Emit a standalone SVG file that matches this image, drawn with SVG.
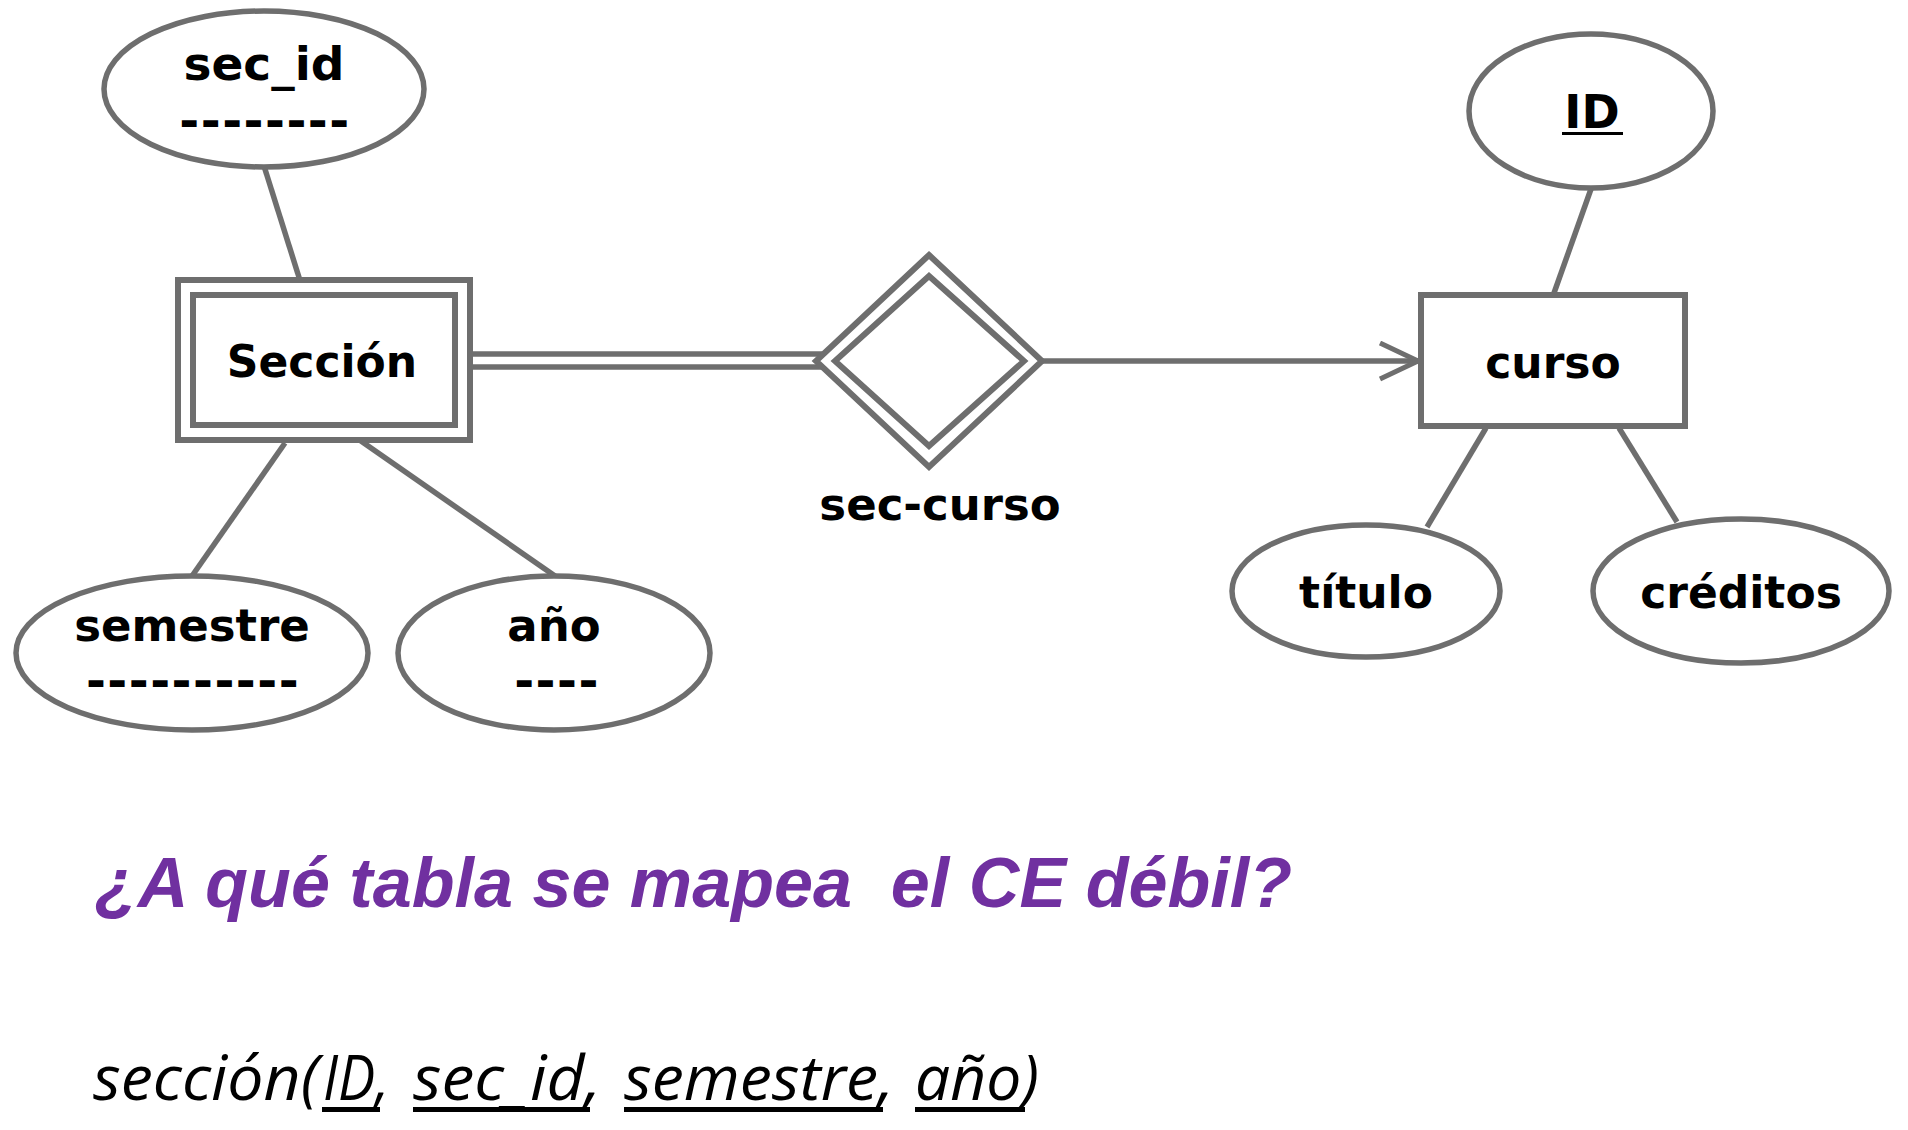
<svg xmlns="http://www.w3.org/2000/svg" width="1908" height="1130" viewBox="0 0 1908 1130">
<style>
  .shape { fill: #ffffff; stroke: #6e6e6e; stroke-width: 6; }
  .attr { fill: #ffffff; stroke: #6e6e6e; stroke-width: 5.5; }
  .conn { fill: none; stroke: #6e6e6e; stroke-width: 5.5; }
  .lbl { font-family: "DejaVu Sans", Verdana, sans-serif; font-weight: bold; font-size: 44px; fill: #000000; text-anchor: middle; }
  .dash { font-family: "DejaVu Sans", Verdana, sans-serif; font-weight: bold; font-size: 48px; letter-spacing: 1.5px; fill: #000000; text-anchor: middle; }
  .title { font-family: "Liberation Sans", Arial, sans-serif; font-weight: bold; font-style: italic; font-size: 70px; fill: #7030A0; }
  .rel { font-family: "Open Sans", "Noto Sans", sans-serif; font-style: italic; font-size: 63px; fill: #000000; }
</style>
<defs>
  <marker id="open-arrow" markerUnits="userSpaceOnUse" markerWidth="46" markerHeight="42" refX="40" refY="20" orient="auto">
    <path d="M2,2 L40,20 L2,38" fill="none" stroke="#6e6e6e" stroke-width="5"/>
  </marker>
</defs>
<rect width="1908" height="1130" fill="#ffffff"/>

<g id="connectors">
  <line class="conn" x1="264" y1="166" x2="303" y2="290"/>
  <line class="conn" x1="285" y1="443" x2="192" y2="576"/>
  <line class="conn" x1="348" y1="432" x2="555" y2="576"/>
  <line class="conn" x1="473" y1="354" x2="822" y2="354"/>
  <line class="conn" x1="473" y1="367" x2="822" y2="367"/>
  <line class="conn" x1="1043" y1="361" x2="1418" y2="361" marker-end="url(#open-arrow)"/>
  <line class="conn" x1="1591" y1="189" x2="1554" y2="293"/>
  <line class="conn" x1="1486" y1="428" x2="1427" y2="527"/>
  <line class="conn" x1="1619" y1="428" x2="1677" y2="522"/>
</g>

<g id="attr-sec_id">
  <ellipse class="attr" cx="264" cy="89" rx="160" ry="78"/>
  <text class="lbl" x="264" y="80" style="font-size:47px">sec_id</text>
  <text class="dash" x="265" y="137">--------</text>
</g>

<g id="entity-seccion">
  <rect class="shape" x="178" y="280" width="292" height="160"/>
  <rect class="shape" x="193" y="295" width="262" height="130"/>
  <text class="lbl" x="322" y="377">Sección</text>
</g>

<g id="attr-semestre">
  <ellipse class="attr" cx="192" cy="653" rx="176" ry="77"/>
  <text class="lbl" x="192" y="641" style="font-size:45px">semestre</text>
  <text class="dash" x="193" y="697">----------</text>
</g>

<g id="attr-anio">
  <ellipse class="attr" cx="554" cy="653" rx="156" ry="77"/>
  <text class="lbl" x="554" y="641" style="font-size:45px">año</text>
  <text class="dash" x="557" y="697">----</text>
</g>

<g id="rel-sec-curso">
  <polygon class="shape" points="929,255 1042,361 929,467 816,361"/>
  <polygon class="shape" points="929,276 1024,361 929,446 835,361"/>
  <text class="lbl" x="940" y="520" style="font-size:45px">sec-curso</text>
</g>

<g id="entity-curso">
  <rect class="shape" x="1421" y="295" width="264" height="131"/>
  <text class="lbl" x="1553" y="378">curso</text>
</g>

<g id="attr-ID">
  <ellipse class="attr" cx="1591" cy="111" rx="122" ry="77"/>
  <text class="lbl" x="1592" y="128" style="font-size:46px">ID</text>
  <rect x="1562" y="132" width="61" height="3" fill="#000000"/>
</g>

<g id="attr-titulo">
  <ellipse class="attr" cx="1366" cy="591" rx="134" ry="66"/>
  <text class="lbl" x="1366" y="608">título</text>
</g>

<g id="attr-creditos">
  <ellipse class="attr" cx="1741" cy="591" rx="148" ry="72"/>
  <text class="lbl" x="1741" y="608">créditos</text>
</g>

<g id="question">
  <text class="title" x="95" y="907" textLength="1197" lengthAdjust="spacingAndGlyphs" xml:space="preserve">¿A qué tabla se mapea  el CE débil?</text>
</g>

<g id="relation">
  <text class="rel" x="93" y="1100" textLength="226" lengthAdjust="spacingAndGlyphs">sección(</text>
  <text class="rel" x="323" y="1100" textLength="66" lengthAdjust="spacingAndGlyphs">ID,</text>
  <text class="rel" x="413" y="1100" textLength="188" lengthAdjust="spacingAndGlyphs">sec_id,</text>
  <text class="rel" x="624" y="1100" textLength="270" lengthAdjust="spacingAndGlyphs">semestre,</text>
  <text class="rel" x="915" y="1100" textLength="124" lengthAdjust="spacingAndGlyphs">año)</text>
  <rect x="322" y="1107" width="58" height="5" fill="#000000"/>
  <rect x="413" y="1107" width="177" height="5" fill="#000000"/>
  <rect x="624" y="1107" width="259" height="5" fill="#000000"/>
  <rect x="915" y="1107" width="110" height="5" fill="#000000"/>
</g>
</svg>
